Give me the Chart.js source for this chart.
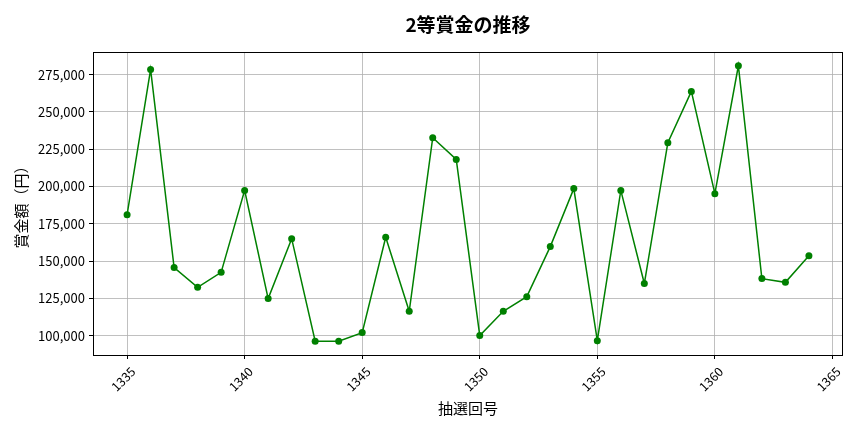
<!DOCTYPE html>
<html>
<head>
<meta charset="utf-8">
<script src="https://cdn.jsdelivr.net/npm/chart.js@4/dist/chart.umd.min.js"></script>
<style>
  html, body { margin: 0; padding: 0; background: #fff; }
</style>
</head>
<body>
<canvas id="chart" width="864" height="432"></canvas>
<script>
'use strict';

let canvasElem = document.getElementById('chart');

// 抽選回号 and 2等賞金 (円)
let drawNumbers = [1335, 1336, 1337, 1338, 1339, 1340, 1341, 1342, 1343, 1344,
  1345, 1346, 1347, 1348, 1349, 1350, 1351, 1352, 1353, 1354,
  1355, 1356, 1357, 1358, 1359, 1360, 1361, 1362, 1363, 1364];
let prizeValues = [181100, 278500, 145600, 132400, 142400, 197400, 124800, 165000, 96200, 96200,
  102000, 165900, 116300, 232700, 218200, 100000, 116300, 126100, 159700, 198600,
  96600, 197400, 134900, 229400, 263800, 195200, 281000, 138200, 135700, 153600];
let xTickValues = [1335, 1340, 1345, 1350, 1355, 1360, 1365];
let yTickValues = [100000, 125000, 150000, 175000, 200000, 225000, 250000, 275000];

const FONT = "'Noto Sans CJK JP', 'Noto Sans', sans-serif";

// matplotlib style 5% margins
function padRange(values) {
  let lo = Math.min(...values);
  let hi = Math.max(...values);
  let m = (hi - lo) * 0.05;
  return [lo - m, hi + m];
}

let frame = {
  id: 'frame',
  afterDraw(chart) {
    let a = chart.chartArea;
    let ctx = chart.ctx;
    ctx.save();
    ctx.strokeStyle = '#000';
    ctx.lineWidth = 1;
    ctx.strokeRect(a.left + 0.5, a.top + 0.5, a.right - a.left - 1, a.bottom - a.top);
    ctx.restore();
  }
};

function renderChart() {
  let [xMin, xMax] = padRange(drawNumbers);
  let [yMin, yMax] = padRange(prizeValues);

  let data = {
    datasets: [{
      label: '2等賞金',
      data: drawNumbers.map((n, i) => ({x: n, y: prizeValues[i]})),
      borderColor: '#008000',
      backgroundColor: '#008000',
      borderWidth: 1.5,
      pointRadius: 3.5,
      pointHoverRadius: 3.5,
      pointBorderWidth: 0,
      tension: 0,
    }],
  };

  let config = {
    type: 'line',
    data: data,
    plugins: [frame],
    options: {
      responsive: false,
      animation: false,
      layout: { padding: { left: 0, right: 21, top: 0, bottom: 0 } },
      plugins: {
        legend: { display: false },
        tooltip: { enabled: false },
        title: {
          display: true,
          text: '2等賞金の推移',
          fullSize: false,
          color: '#000',
          font: { family: FONT, size: 19, weight: 'bold', lineHeight: 1.2 },
          padding: { top: 13.6, bottom: 15.6 },
        },
      },
      scales: {
        x: {
          type: 'linear',
          min: xMin,
          max: xMax,
          afterBuildTicks(scale) { scale.ticks = xTickValues.map(v => ({value: v})); },
          afterFit(scale) { scale.height = 77; },
          grid: { color: '#b0b0b0', lineWidth: 0.8, tickLength: 4, tickColor: '#000', tickWidth: 1 },
          border: { display: false },
          ticks: {
            minRotation: 45,
            maxRotation: 45,
            labelOffset: 6,
            padding: 5,
            color: '#000',
            font: { family: FONT, size: 12.5 },
            callback: v => String(v),
          },
          title: {
            display: true,
            text: '抽選回号',
            color: '#000',
            font: { family: FONT, size: 15, lineHeight: 1.2 },
            padding: { top: 0, bottom: 15 },
          },
        },
        y: {
          type: 'linear',
          min: yMin,
          max: yMax,
          afterBuildTicks(scale) { scale.ticks = yTickValues.map(v => ({value: v})); },
          afterFit(scale) { scale.width = 93; },
          grid: { color: '#b0b0b0', lineWidth: 0.8, tickLength: 4, tickColor: '#000', tickWidth: 1 },
          border: { display: false },
          ticks: {
            padding: 4,
            color: '#000',
            font: { family: FONT, size: 13 },
            callback: v => v.toLocaleString('en-US'),
          },
          title: {
            display: true,
            text: '賞金額（円）',
            color: '#000',
            font: { family: FONT, size: 15, lineHeight: 1.2 },
            padding: { top: 12, bottom: 0 },
          },
        },
      },
    },
  };

  new Chart(canvasElem, config);
}

renderChart();
</script>
</body>
</html>
